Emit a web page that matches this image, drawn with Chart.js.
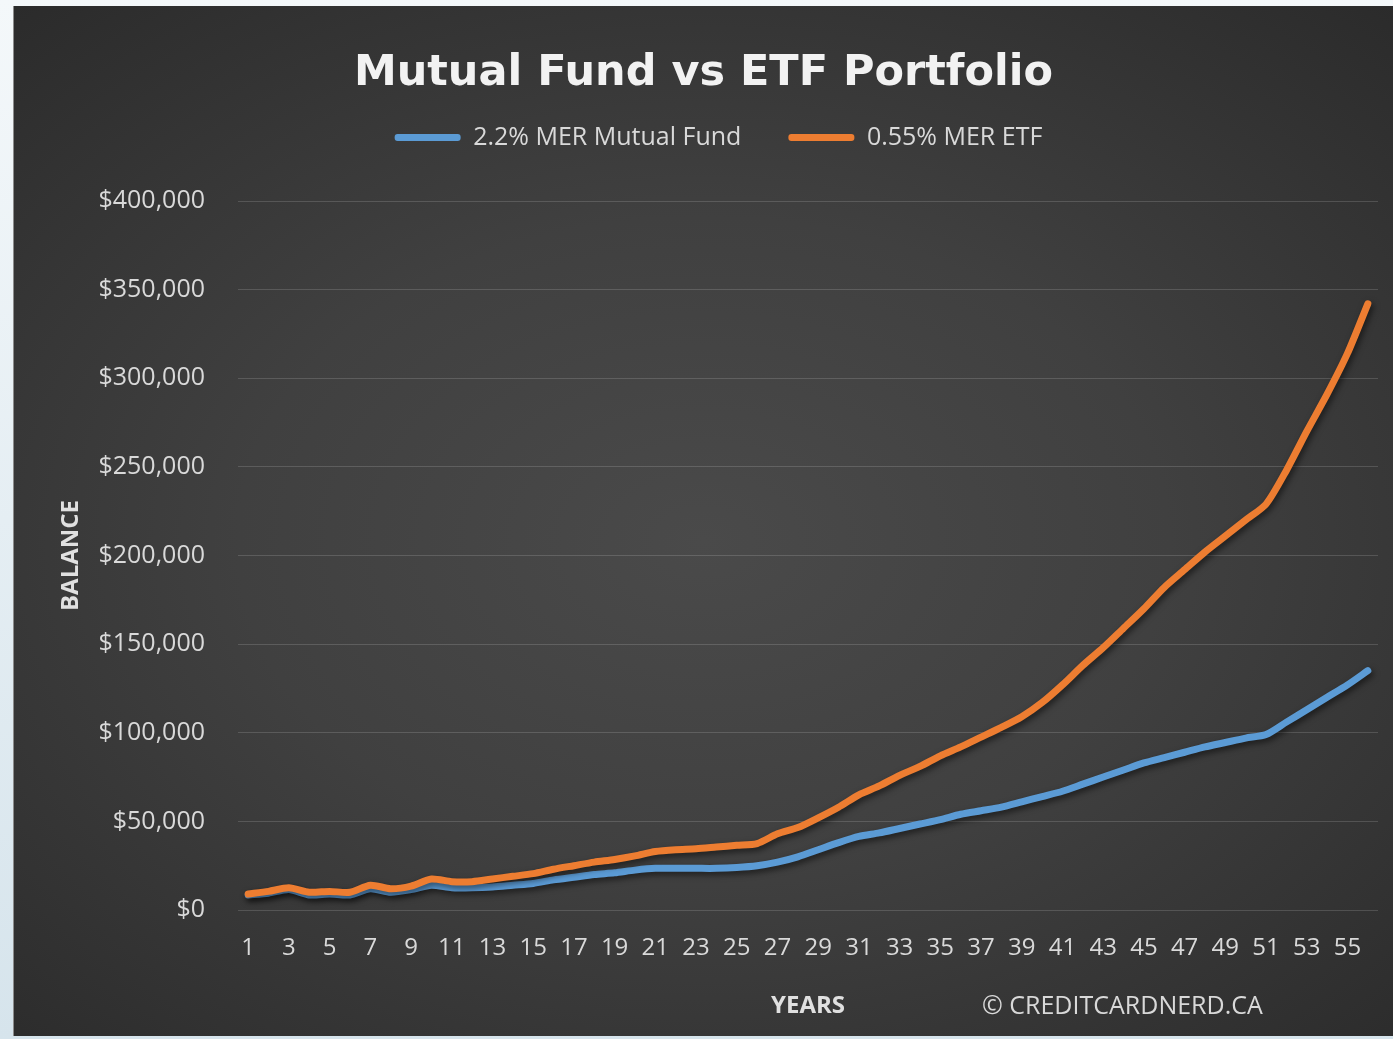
<!DOCTYPE html>
<html>
<head>
  <meta charset="UTF-8">
  <title>Mutual Fund vs ETF Portfolio</title>
  <script src="https://cdn.jsdelivr.net/npm/chart.js"></script>
  <style>
    body {
      margin: 0;
      width: 1393px;
      height: 1039px;
      overflow: hidden;
      position: relative;
      background: linear-gradient(#f4f8fa, #d6e4ec);
    }
    /* dark chart panel */
    .panel {
      position: absolute;
      left: 14px;
      top: 6px;
      width: 1379px;
      height: 1030px;
      background: radial-gradient(ellipse 75% 70% at 50% 52%, #4a4a4a 0%, #404040 45%, #2b2b2b 100%);
      box-shadow: -1px 0 0 #8c8c8c;
    }
    canvas { display: block; }
  </style>
</head>
<body>
  <div class="panel">
    <canvas id="chart" width="1379" height="1030"></canvas>
  </div>

  <script>
    const years = ['1','2','3','4','5','6','7','8','9','10','11','12','13','14','15','16','17','18','19','20',
      '21','22','23','24','25','26','27','28','29','30','31','32','33','34','35','36','37','38','39','40',
      '41','42','43','44','45','46','47','48','49','50','51','52','53','54','55','56'];

    const mutualFund = [8500, 9500, 11500, 8500, 9000, 8500, 12000, 10000, 11500, 14000,
      12500, 12500, 13000, 14000, 15000, 17000, 18500, 20000, 21000, 22500,
      23500, 23500, 23500, 23500, 24000, 25000, 27000, 30000, 34000, 38000,
      41500, 43500, 46000, 48500, 51000, 54000, 56000, 58000, 61000, 64000,
      67000, 71000, 75000, 79000, 83000, 86000, 89000, 92000, 94500, 97000,
      99000, 106000, 113000, 120000, 127000, 135000];

    const etf = [9000, 10500, 12500, 10000, 10500, 10000, 14000, 12000, 13500, 17500,
      16000, 16000, 17500, 19000, 20500, 23000, 25000, 27000, 28500, 30500,
      33000, 34000, 34500, 35500, 36500, 37500, 43000, 46500, 52000, 58000,
      65000, 70000, 76000, 81000, 87000, 92000, 97500, 103000, 109000, 117000,
      127000, 138000, 148000, 159000, 170000, 182000, 192000, 202000, 211000, 220000,
      229000, 248000, 270000, 291000, 314000, 342000];

    const yMax = 400000;
    const yStep = 50000;

    const blue = '#5b9bd5';
    const orange = '#ed7d31';
    const textColor = '#d9d9d9';

    // soft drop shadow under the lines, like the excel chart
    const lineShadow = {
      id: 'lineShadow',
      beforeDatasetDraw(chart) {
        const c = chart.ctx;
        c.save();
        c.shadowColor = 'rgba(0, 0, 0, 0.55)';
        c.shadowBlur = 6;
        c.shadowOffsetX = 2;
        c.shadowOffsetY = 3;
      },
      afterDatasetDraw(chart) {
        chart.ctx.restore();
      }
    };

    // legend sits a little right of the title in the original
    const legendNudge = {
      id: 'legendNudge',
      afterLayout(chart) {
        chart.legend.left += 15;
        chart.legend.right += 15;
      }
    };

    const credit = {
      id: 'credit',
      afterDraw(chart) {
        const c = chart.ctx;
        const a = chart.chartArea;
        c.save();
        c.font = '25px "Open Sans"';
        c.fillStyle = textColor;
        c.textBaseline = 'middle';
        c.fillText('© CREDITCARDNERD.CA', a.left + 744, a.bottom + 97);
        c.restore();
      }
    };

    const ctx = document.getElementById('chart').getContext('2d');

    new Chart(ctx, {
      type: 'line',
      data: {
        labels: years,
        datasets: [
          {
            label: '0.55% MER ETF',
            data: etf,
            borderColor: orange,
            backgroundColor: orange,
            borderWidth: 7,
            pointRadius: 0,
            tension: 0.25,
            borderCapStyle: 'round',
            borderJoinStyle: 'round'
          },
          {
            label: '2.2% MER Mutual Fund',
            data: mutualFund,
            borderColor: blue,
            backgroundColor: blue,
            borderWidth: 7,
            pointRadius: 0,
            tension: 0.25,
            borderCapStyle: 'round',
            borderJoinStyle: 'round'
          }
        ]
      },
      options: {
        responsive: false,
        animation: false,
        layout: { padding: { left: 15, right: 15, top: 0, bottom: 0 } },
        plugins: {
          title: {
            display: true,
            text: 'Mutual Fund vs ETF Portfolio',
            color: '#f2f2f2',
            font: { family: 'DejaVu Sans', size: 43, weight: 'bold', lineHeight: 1.2 },
            padding: { top: 42, bottom: -21.6 }
          },
          // empty block that keeps room between legend and plot
          subtitle: {
            display: true,
            text: '',
            weight: 500,
            font: { size: 10, lineHeight: 1.2 },
            padding: { top: 29, bottom: 0 }
          },
          legend: {
            reverse: true,
            labels: {
              color: textColor,
              font: { family: 'Open Sans', size: 25 },
              boxWidth: 66,
              boxHeight: 7,
              padding: 47,
              useBorderRadius: true,
              borderRadius: 3,
              generateLabels(chart) {
                const items = Chart.defaults.plugins.legend.labels.generateLabels(chart);
                items.forEach(it => { it.lineWidth = 0; });
                return items;
              }
            }
          },
          tooltip: { enabled: false }
        },
        scales: {
          x: {
            offset: true,
            grid: { display: false, drawTicks: false },
            border: { display: false },
            ticks: {
              color: textColor,
              font: { family: 'Open Sans', size: 24 },
              autoSkip: false,
              maxRotation: 0,
              padding: 24,
              callback(val, i) {
                return i % 2 === 0 ? this.getLabelForValue(val) : '';
              }
            },
            title: {
              display: true,
              text: 'YEARS',
              color: '#e0e0e0',
              font: { family: 'Open Sans', size: 24, weight: 'bold', lineHeight: 1.2 },
              padding: { top: 0, bottom: 15 }
            },
            afterFit(scale) { scale.height = 126; }
          },
          y: {
            min: 0,
            max: yMax,
            grid: { color: 'rgba(255, 255, 255, 0.15)', lineWidth: 1, drawTicks: false },
            border: { display: false },
            ticks: {
              stepSize: yStep,
              color: textColor,
              font: { family: 'Open Sans', size: 25 },
              padding: 33,
              callback: v => '$' + v.toLocaleString('en-US')
            },
            title: {
              display: true,
              text: 'BALANCE',
              color: '#e0e0e0',
              font: { family: 'Open Sans', size: 24, weight: 'bold', lineHeight: 1.2 },
              padding: { top: 28, bottom: 0 }
            },
            afterFit(scale) { scale.width = 209; }
          }
        }
      },
      plugins: [lineShadow, legendNudge, credit]
    });
  </script>
</body>
</html>
